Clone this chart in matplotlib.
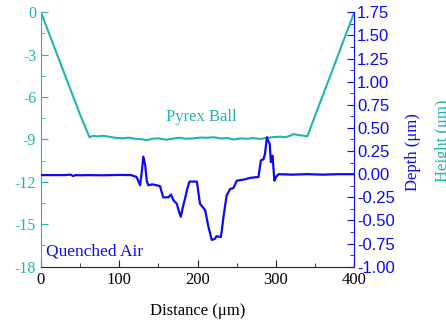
import matplotlib.pyplot as plt
from matplotlib.ticker import MultipleLocator

# Pyrex ball height profile (left axis units)
ball_x = [0, 10, 20, 30, 40, 50, 62, 66, 72, 80, 88, 95, 105, 112, 120, 128, 135,
          142, 150, 160, 168, 177, 185, 195, 205, 212, 220, 230, 238, 246, 255,
          263, 271, 280, 290, 297, 305, 312, 318, 322, 328, 334, 340,
          350, 360, 370, 380, 390, 400]
ball_h = [0, -1.45, -2.9, -4.35, -5.8, -7.25, -8.85, -8.75, -8.78, -8.74, -8.82, -8.88,
          -8.92, -8.87, -8.95, -8.98, -9.04, -8.95, -8.92, -9.02, -8.94, -8.88, -8.95,
          -8.92, -8.86, -8.88, -8.84, -8.93, -8.9, -9.0, -8.92, -8.95, -8.9, -8.96,
          -8.88, -8.83, -8.8, -8.84, -8.74, -8.62, -8.68, -8.72, -8.78,
          -7.3, -5.85, -4.4, -2.92, -1.46, 0]

# Quenched air depth profile (right axis, um)
air_x = [0, 30, 38, 41, 44, 50, 60, 80, 100, 115, 122, 126.5, 129, 130.7, 133, 135,
         137, 142, 147.8, 152, 156, 162.7, 166, 169, 173.4, 176, 178.5, 181, 184,
         187, 189.6, 195, 199, 201, 203, 206, 209.6, 213.8, 218, 222, 224, 229.6,
         231, 233, 237, 241.5, 245.7, 250, 258, 267, 277.7, 280.7, 284, 286, 288.4,
         290, 292, 293.5, 295.6, 298, 300, 303.3, 320, 340, 360, 380, 400]
air_d = [-0.01, -0.01, -0.005, -0.02, -0.01, -0.012, -0.01, -0.012, -0.008, -0.01,
         -0.03, -0.12, 0.05, 0.19, 0.1, -0.07, -0.12, -0.11, -0.12, -0.13, -0.25,
         -0.25, -0.22, -0.28, -0.32, -0.4, -0.46, -0.36, -0.26, -0.15, -0.08, -0.08,
         -0.08, -0.2, -0.32, -0.35, -0.39, -0.57, -0.71, -0.7, -0.67, -0.68, -0.6,
         -0.46, -0.23, -0.16, -0.15, -0.07, -0.06, -0.04, -0.03, 0.15, 0.16, 0.22,
         0.4, 0.36, 0.33, 0.13, 0.2, -0.07, -0.03, 0.0, -0.005, 0.0, -0.005, 0.0, 0.0]

teal = '#1fb5ad'
blue = '#0a0af5'
serif = 'Liberation Serif'
sans = 'Liberation Sans'

fig = plt.figure(figsize=(4.46, 3.25), dpi=100)
ax = fig.add_axes([0.0919, 0.1794, 0.7025, 0.7828])
ax2 = ax.twinx()

ax.plot(ball_x, ball_h, color=teal, lw=1.5)
ax2.plot(air_x, air_d, color=blue, lw=1.6)

ax.set_xlim(0, 400)
ax.set_ylim(-18, 0)
ax2.set_ylim(-1.0, 1.75)

ax.xaxis.set_major_locator(MultipleLocator(100))
ax.xaxis.set_minor_locator(MultipleLocator(50))
ax.yaxis.set_major_locator(MultipleLocator(3))
ax.yaxis.set_minor_locator(MultipleLocator(1.5))
ax2.yaxis.set_major_locator(MultipleLocator(0.25))
ax2.yaxis.set_minor_locator(MultipleLocator(0.125))
ax2.yaxis.set_major_formatter(lambda v, p: f'{v:.2f}')
ax.yaxis.set_major_formatter(lambda v, p: f'{v:.0f}')

for a in (ax, ax2):
    a.spines['top'].set_visible(False)
ax.spines['right'].set_visible(False)
ax.spines['left'].set_color(teal)
ax2.spines['left'].set_visible(False)
ax2.spines['right'].set_color(blue)
ax2.spines['bottom'].set_visible(False)
ax.spines['bottom'].set_color('#222222')

ax.tick_params(axis='y', which='both', direction='in', color=teal, labelcolor=teal,
               labelsize=11.5)
ax.tick_params(axis='y', which='major', length=5)
ax.tick_params(axis='y', which='minor', length=3)
ax.tick_params(axis='x', which='both', direction='in', color='#222222', labelsize=12)
ax.tick_params(axis='x', which='major', length=5)
ax.tick_params(axis='x', which='minor', length=3)
ax2.tick_params(axis='y', which='both', direction='in', color=blue, labelcolor=blue,
                labelsize=12, pad=2)
ax2.tick_params(axis='y', which='major', length=5)
ax2.tick_params(axis='y', which='minor', length=3)

for lab in ax.get_xticklabels() + ax.get_yticklabels():
    lab.set_fontfamily(serif)
for lab in ax2.get_yticklabels():
    lab.set_fontfamily(sans)

ax.set_xlabel('Distance (\u03bcm)', fontfamily=serif, fontsize=12, labelpad=11)

ax.text(205, -7.4, 'Pyrex Ball', color=teal, fontfamily=serif, fontsize=12,
        ha='center', va='center')
ax.text(6, -16.9, 'Quenched Air', color=blue, fontfamily=serif, fontsize=12.5,
        ha='left', va='center')

fig.text(413 / 446, 1 - 152 / 325, 'Depth (\u03bcm)', color=blue, fontfamily=serif,
         fontsize=12, rotation=90, ha='center', va='center')
fig.text(435 / 446, 1 - 141 / 325, 'Height (\u03bcm)', color=teal, fontfamily=serif,
         fontsize=12, rotation=90, ha='left', va='center')

fig.savefig('out.png', dpi=100)
